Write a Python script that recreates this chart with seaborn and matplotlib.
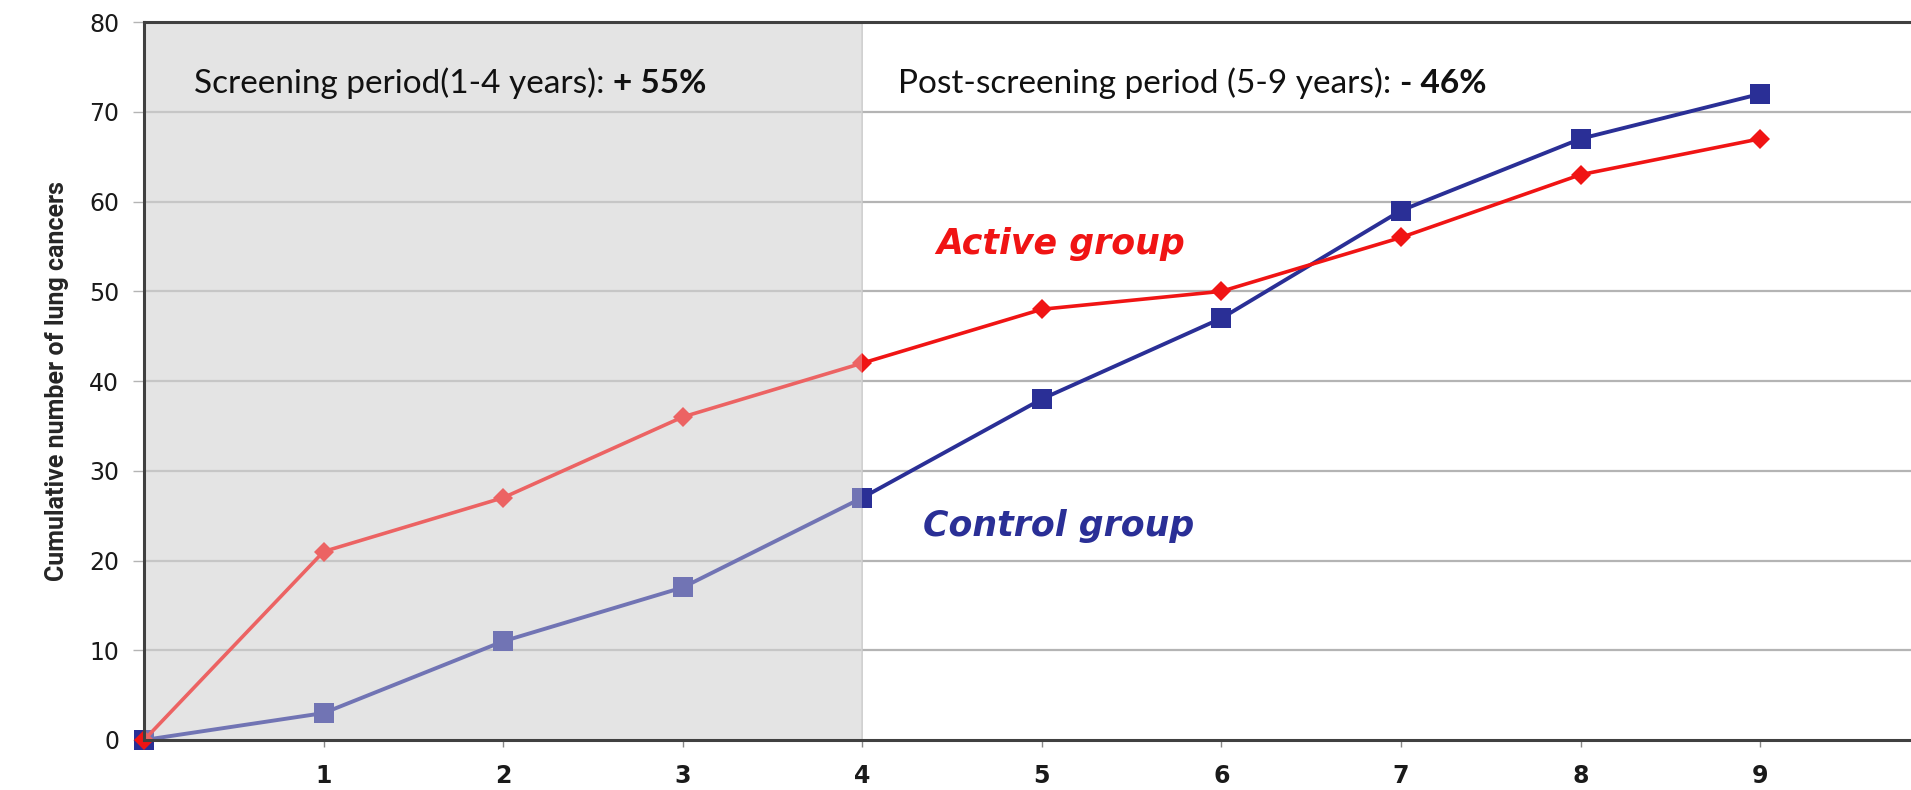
import matplotlib
matplotlib.use("Agg")
import matplotlib.pyplot as plt
import seaborn as sns
import pandas as pd

years = [0, 1, 2, 3, 4, 5, 6, 7, 8, 9]
active = [0, 21, 27, 36, 42, 48, 50, 56, 63, 67]
control = [0, 3, 11, 17, 27, 38, 47, 59, 67, 72]
yticks = [0, 10, 20, 30, 40, 50, 60, 70, 80]
xticks = [1, 2, 3, 4, 5, 6, 7, 8, 9]

sns.set_style("white")
plt.rcParams['font.family'] = ['DejaVu Sans']

fig = plt.figure(figsize=(19.11, 7.90), dpi=100)
ax = fig.add_axes([0.0754, 0.0633, 0.9246, 0.9087])

df = pd.concat([
    pd.DataFrame({"year": years, "n": control, "group": "Control group"}),
    pd.DataFrame({"year": years, "n": active, "group": "Active group"}),
])

ax.axvspan(0, 4, color="#e3e3e3", zorder=0, lw=0)
for y in yticks[1:-1]:
    ax.axhline(y, color="#b4b4b4", lw=1.6, zorder=1)
ax.axvline(4, color="#c8c8c8", lw=1.2, zorder=1)

sns.lineplot(data=df[df.group == "Control group"], x="year", y="n", color="#2a2f96",
             lw=2.8, marker="s", markersize=14, markeredgewidth=0, ax=ax, zorder=3,
             clip_on=False, legend=False)
sns.lineplot(data=df[df.group == "Active group"], x="year", y="n", color="#f01414",
             lw=2.6, marker="D", markersize=10.5, markeredgewidth=0, ax=ax, zorder=4,
             clip_on=False, legend=False)

# light overlay of the screening period
ax.axvspan(0.0, 4, color="#e6e6e6", alpha=0.38, zorder=5, lw=0)

ax.set_xlim(0, 9.84)
ax.set_ylim(0, 80)
ax.set_xticks(xticks)
ax.set_xticklabels([str(x) for x in xticks], fontsize=17, fontweight="bold", color="#1a1a1a")
ax.set_yticks(yticks)
ax.set_yticklabels([str(y) for y in yticks], fontsize=17, color="#1a1a1a")
ax.tick_params(axis="x", length=5, width=1, color="#888888", pad=12, bottom=True)
ax.tick_params(axis="y", length=8, width=1, color="#b4b4b4", pad=10, left=True)
ax.set_xlabel("")
ax.set_ylabel("Cumulative number of lung cancers", fontsize=18, fontweight="bold",
              family=["Roboto", "DejaVu Sans"], labelpad=14)

for s in ["left", "bottom", "top"]:
    ax.spines[s].set_color("#404040")
    ax.spines[s].set_linewidth(2.2)
    ax.spines[s].set_zorder(6)
ax.spines["right"].set_visible(False)

tf = ["Lato", "DejaVu Sans"]
t1 = ax.text(0.28, 73.2, "Screening period(1-4 years): ", fontsize=24, family=tf,
             va="center", ha="left", color="#111111", zorder=7)
ax.annotate("+ 55%", xy=(1, 0.5), xycoords=t1, va="center", ha="left",
            fontsize=24, fontweight="bold", family=tf, color="#111111", zorder=7)
t2 = ax.text(4.2, 73.2, "Post-screening period (5-9 years): ", fontsize=24, family=tf,
             va="center", ha="left", color="#111111", zorder=7)
ax.annotate("- 46%", xy=(1, 0.5), xycoords=t2, va="center", ha="left",
            fontsize=24, fontweight="bold", family=tf, color="#111111", zorder=7)

gf = ["DejaVu Sans"]
ax.text(4.41, 55.3, "Active group", fontsize=25, fontweight="bold", fontstyle="italic",
        family=gf, color="#f01414", va="center", ha="left", zorder=7)
ax.text(4.34, 23.9, "Control group", fontsize=25, fontweight="bold", fontstyle="italic",
        family=gf, color="#2a2f96", va="center", ha="left", zorder=7)

fig.savefig("out.png", dpi=100)
